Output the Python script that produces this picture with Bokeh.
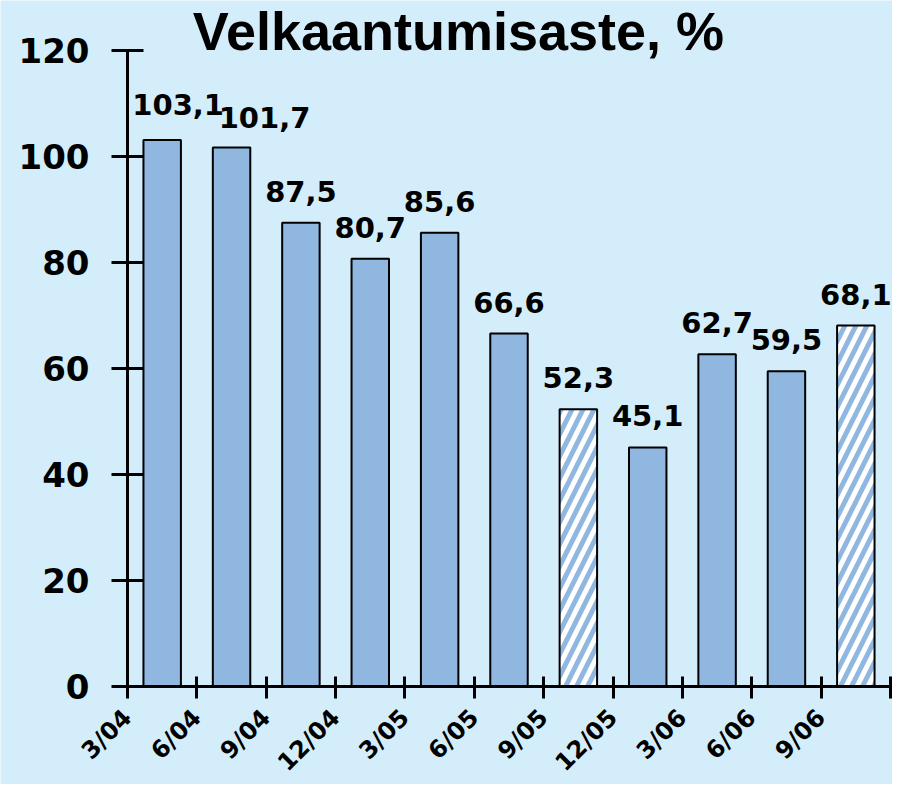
from bokeh.plotting import figure
from bokeh.models import ColumnDataSource, FixedTicker, LabelSet, Label, Range1d
from bokeh.core.properties import value
from bokeh.embed import file_html
from bokeh.resources import INLINE

# ---- data ----
quarters = ["3/04", "6/04", "9/04", "12/04", "3/05", "6/05", "9/05", "12/05", "3/06", "6/06", "9/06"]
values = [103.1, 101.7, 87.5, 80.7, 85.6, 66.6, 52.3, 45.1, 62.7, 59.5, 68.1]
value_texts = ["103,1", "101,7", "87,5", "80,7", "85,6", "66,6", "52,3", "45,1", "62,7", "59,5", "68,1"]
hatched = [False, False, False, False, False, False, True, False, False, False, True]
y_ticks = [0, 20, 40, 60, 80, 100, 120]
y_max = 120
title_text = "Velkaantumisaste, %"

# ---- style ----
BG = "#d3eefa"
BAR = "#8fb7e0"
label_dx = [16, 33, 0, 0, 0, 0, 0, 0, 0, 0, 0]
label_dy = [25, 19, 21, 21, 21, 21, 21, 21, 21, 21, 21]

n = len(values)
xs = [i + 0.5 for i in range(n)]

# layout in pixels (frame covers the whole canvas; axes are placed at the data origin)
W, H = 892, 784
zero_py, top_py = 686, 50          # pixel rows of value 0 and value 120
zero_px, last_px = 127, 890        # pixel columns of the first and last category boundary
ppu_y = (zero_py - top_py) / y_max
ppu_x = (last_px - zero_px) / n

p = figure(width=W, height=H, output_backend="svg", toolbar_location=None,
           x_range=Range1d(-zero_px / ppu_x, (W - zero_px) / ppu_x),
           y_range=Range1d(-(H - zero_py) / ppu_y, zero_py / ppu_y),
           min_border_left=0, min_border_right=0, min_border_top=0, min_border_bottom=0)
p.background_fill_color = BG
p.border_fill_color = BG
p.outline_line_color = None
p.xgrid.grid_line_color = None
p.ygrid.grid_line_color = None

solid = ColumnDataSource(dict(x=[x for x, h in zip(xs, hatched) if not h],
                              top=[v for v, h in zip(values, hatched) if not h]))
hatch = ColumnDataSource(dict(x=[x for x, h in zip(xs, hatched) if h],
                              top=[v for v, h in zip(values, hatched) if h]))

p.vbar(x="x", top="top", bottom=0, width=0.54, source=solid,
       fill_color=BAR, line_color="black", line_width=2)
p.vbar(x="x", top="top", bottom=0, width=0.54, source=hatch,
       fill_color="white", line_color="black", line_width=2,
       hatch_pattern="/", hatch_color=BAR, hatch_weight=5, hatch_scale=22)

lab_src = ColumnDataSource(dict(x=xs, y=values, text=value_texts, dx=label_dx, dy=label_dy))
labels = LabelSet(x="x", y="y", text="text", source=lab_src,
                  x_offset="dx", y_offset="dy",
                  text_align="center", text_baseline="alphabetic",
                  text_font=value("DejaVu Sans"), text_font_style="bold",
                  text_font_size="29px", text_color="black")
p.add_layout(labels)

# axes
xa = p.xaxis[0]
xa.fixed_location = 0
xa.bounds = (-15 / ppu_x, (W - zero_px) / ppu_x)
xa.ticker = FixedTicker(ticks=list(range(n + 1)))
overrides = {i: q for i, q in enumerate(quarters)}
overrides[n] = ""
xa.major_label_overrides = overrides
xa.major_label_orientation = 0.785398
xa.major_label_text_font = "DejaVu Sans"
xa.major_label_text_font_style = "bold"
xa.major_label_text_font_size = "24px"
xa.major_label_text_color = "black"
xa.major_label_standoff = 15
xa.axis_line_width = 3
xa.major_tick_line_width = 3
xa.major_tick_in = 10
xa.major_tick_out = 12
xa.minor_tick_line_color = None

ya = p.yaxis[0]
ya.fixed_location = 0
ya.ticker = FixedTicker(ticks=y_ticks)
ya.bounds = (0, y_max)
ya.major_label_text_font = "DejaVu Sans"
ya.major_label_text_font_style = "bold"
ya.major_label_text_font_size = "34px"
ya.major_label_text_color = "black"
ya.major_label_standoff = 22
ya.axis_line_width = 3
ya.major_tick_line_width = 3
ya.major_tick_in = 16
ya.major_tick_out = 16
ya.minor_tick_line_color = None

title = Label(x=458, y=H - 30, x_units="screen", y_units="screen", text=title_text,
              text_align="center", text_baseline="alphabetic",
              text_font="Liberation Sans", text_font_style="bold",
              text_font_size="54px", text_color="black")
p.add_layout(title)

open("out.html", "w").write(file_html(p, INLINE))
